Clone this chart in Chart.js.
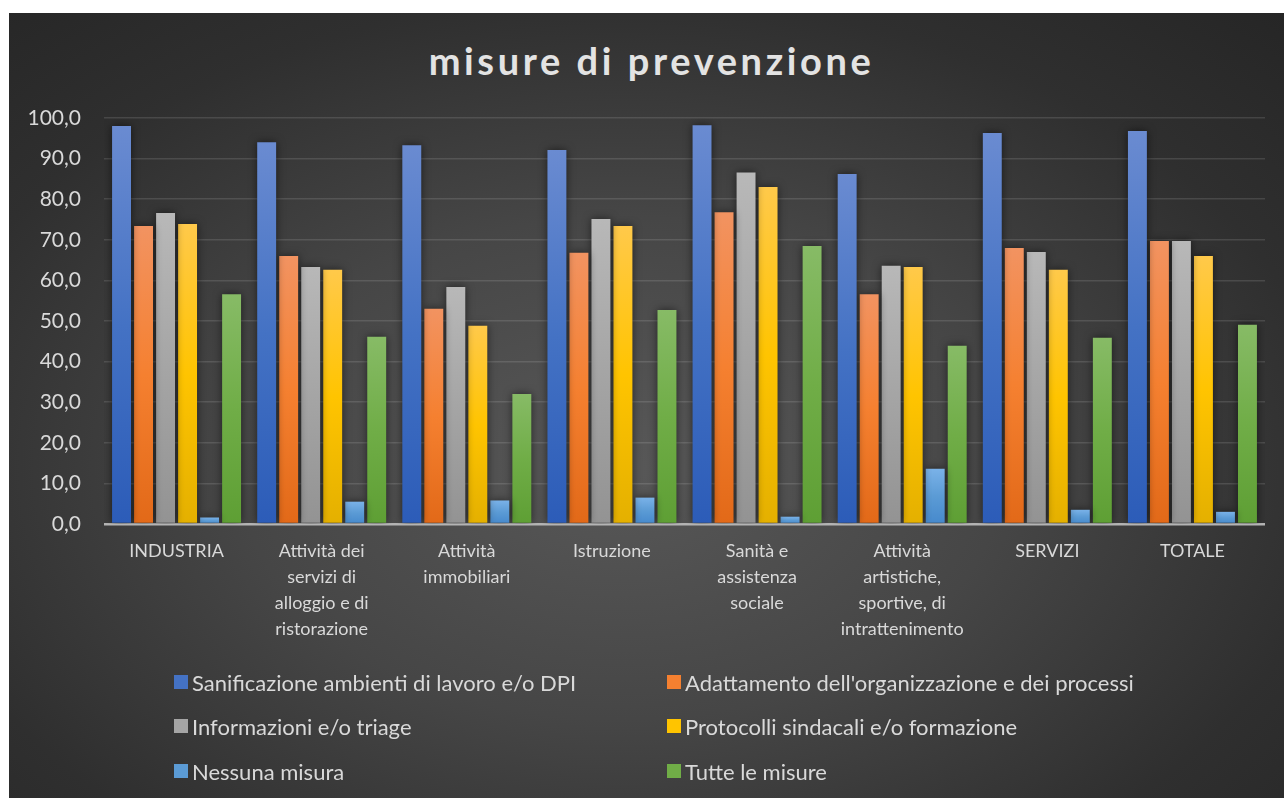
<!DOCTYPE html>
<html>
<head>
<meta charset="utf-8">
<script src="https://cdn.jsdelivr.net/npm/chart.js"></script>
<style>
    body { margin: 0; background: #fff; width: 1284px; height: 798px; overflow: hidden; }
    #panel {
        position: absolute; left: 9px; top: 13px; width: 1275px; height: 785px;
        background: radial-gradient(ellipse 75% 80% at 48% 58%, #585858 0%, #464646 40%, #2f2f2f 75%, #262626 100%);
        font-family: Lato, "Open Sans", sans-serif;
    }
    #title {
        position: absolute; left: 5px; top: 27px; width: 1275px; text-align: center;
        font-size: 38px; line-height: 40px; font-weight: bold; letter-spacing: 3.6px;
        color: #e3e3e3;
    }
    #chartBox { position: absolute; left: 0; top: 0; width: 1275px; height: 665px; }
    #legend { position: absolute; left: 0; top: 0; width: 1275px; height: 785px; pointer-events: none; }
    .item { position: absolute; height: 26px; display: flex; align-items: center; color: #d9d9d9; font-size: 22px; white-space: nowrap; }
    .box { width: 14px; height: 14px; margin-right: 4px; }
</style>
</head>
<body>
<div id="panel">
    <div id="title">misure di prevenzione</div>
    <div id="chartBox"><canvas id="misure"></canvas></div>
    <div id="legend"></div>
</div>
<script>
const categories = [
    "INDUSTRIA",
    ["Attività dei", "servizi di", "alloggio e di", "ristorazione"],
    ["Attività", "immobiliari"],
    "Istruzione",
    ["Sanità e", "assistenza", "sociale"],
    ["Attività", "artistiche,", "sportive, di", "intrattenimento"],
    "SERVIZI",
    "TOTALE"
];
const seriesNames = [
    "Sanificazione ambienti di lavoro e/o DPI",
    "Adattamento dell'organizzazione e dei processi",
    "Informazioni e/o triage",
    "Protocolli sindacali e/o formazione",
    "Nessuna misura",
    "Tutte le misure"
];
const sanificazione = [98.0, 94.0, 93.3, 92.1, 98.2, 86.2, 96.3, 96.8];
const adattamento   = [73.4, 66.0, 53.0, 66.8, 76.8, 56.6, 68.0, 69.7];
const informazioni  = [76.6, 63.3, 58.4, 75.1, 86.6, 63.6, 67.0, 69.7];
const protocolli    = [73.9, 62.6, 48.8, 73.4, 83.0, 63.3, 62.6, 66.0];
const nessuna       = [1.6, 5.5, 5.8, 6.5, 1.8, 13.6, 3.5, 3.0];
const tutte         = [56.6, 46.1, 32.0, 52.7, 68.5, 43.9, 45.9, 49.1];
const yTicks = [0, 10, 20, 30, 40, 50, 60, 70, 80, 90, 100];

// top / middle / bottom of each bar's gradient
const palette = [
    ["#6a8bd1", "#4472c4", "#2c5cb8"],
    ["#f29361", "#f58030", "#e26918"],
    ["#b8b8b8", "#a5a5a5", "#939393"],
    ["#ffc94a", "#ffc400", "#e4b000"],
    ["#7ab2e8", "#5b9bd5", "#4689cc"],
    ["#87bb66", "#70ad47", "#5e9f34"]
];

function barGradient(stops) {
    return function (ctx) {
        const chart = ctx.chart;
        if (!chart.chartArea || ctx.type !== 'data') return stops[1];
        const y = chart.scales.y;
        const top = y.getPixelForValue(ctx.raw);
        const bottom = y.getPixelForValue(0);
        if (!isFinite(top) || bottom - top < 1) return stops[1];
        const g = chart.ctx.createLinearGradient(0, top, 0, bottom);
        g.addColorStop(0, stops[0]);
        g.addColorStop(0.5, stops[1]);
        g.addColorStop(1, stops[2]);
        return g;
    };
}

const values = [sanificazione, adattamento, informazioni, protocolli, nessuna, tutte];
const datasets = values.map((v, i) => ({
    label: seriesNames[i],
    data: v,
    backgroundColor: barGradient(palette[i]),
    borderWidth: 0,
    categoryPercentage: 0.91,
    barPercentage: 0.86
}));

const barShadow = {
    id: 'barShadow',
    beforeDatasetsDraw(chart) {
        const c = chart.ctx;
        c.save();
        c.shadowColor = 'rgba(0,0,0,0.55)';
        c.shadowBlur = 9;
        c.shadowOffsetX = 0;
        c.shadowOffsetY = 0;
    },
    afterDatasetsDraw(chart) {
        chart.ctx.restore();
    }
};

const config = {
    type: 'bar',
    data: { labels: categories, datasets: datasets },
    options: {
        responsive: true,
        maintainAspectRatio: false,
        animation: false,
        layout: { padding: { left: 0, top: 105, right: 19, bottom: 0 } },
        plugins: {
            legend: { display: false },
            title: { display: false },
            tooltip: { enabled: false }
        },
        scales: {
            x: {
                grid: { display: false, drawTicks: false },
                border: { display: false },
                ticks: {
                    color: '#d9d9d9',
                    font: { family: 'Lato', size: 18, lineHeight: 1.45 },
                    maxRotation: 0,
                    autoSkip: false,
                    padding: 14
                },
                afterFit: s => { s.height = 154; }
            },
            y: {
                min: 0,
                max: 100,
                afterBuildTicks: s => { s.ticks = yTicks.map(v => ({ value: v })); },
                afterFit: s => { s.width = 95; },
                border: { display: false },
                grid: {
                    drawTicks: false,
                    color: c => c.tick && c.tick.value === 0 ? '#b4b4b4' : 'rgba(255,255,255,0.12)',
                    lineWidth: c => c.tick && c.tick.value === 0 ? 2.5 : 1.5
                },
                ticks: {
                    color: '#d9d9d9',
                    font: { family: 'Lato', size: 21 },
                    padding: 23,
                    callback: v => v.toFixed(1).replace('.', ',')
                }
            }
        }
    },
    plugins: [barShadow]
};

const chart = new Chart(document.getElementById('misure'), config);

// two-column legend, built from the chart's datasets
const legendPos = [[165, 656], [658, 656], [165, 700], [658, 700], [165, 745], [658, 745]];
const legendEl = document.getElementById('legend');
chart.data.datasets.forEach((ds, i) => {
    const item = document.createElement('div');
    item.className = 'item';
    item.style.left = legendPos[i][0] + 'px';
    item.style.top = legendPos[i][1] + 'px';
    const box = document.createElement('span');
    box.className = 'box';
    box.style.background = palette[i][1];
    item.appendChild(box);
    item.appendChild(document.createTextNode(ds.label));
    legendEl.appendChild(item);
});
</script>
</body>
</html>
